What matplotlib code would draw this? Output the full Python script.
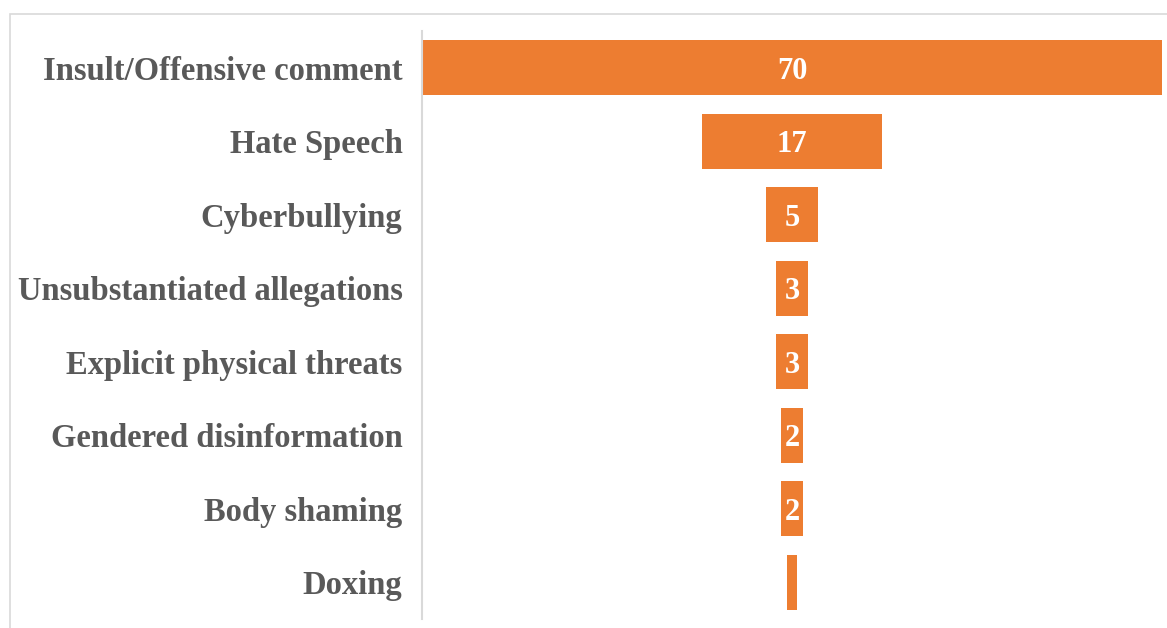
import matplotlib

matplotlib.use("Agg")
import matplotlib.pyplot as plt
from matplotlib.patches import Rectangle

categories = [
    "Insult/Offensive comment",
    "Hate Speech",
    "Cyberbullying",
    "Unsubstantiated allegations",
    "Explicit physical threats",
    "Gendered disinformation",
    "Body shaming",
    "Doxing",
]
values = [70, 17, 5, 3, 3, 2, 2, 1]
shown_labels = ["70", "17", "5", "3", "3", "2", "2", ""]

ORANGE = "#ED7D31"
GRAY = "#595959"
FONT = "Liberation Serif"

fig = plt.figure(figsize=(11.67, 6.28), dpi=100)
# light frame around the chart area
fig.patches.append(Rectangle((10 / 1167, -0.01), 1.0, (628 - 14) / 628 + 0.01,
                             transform=fig.transFigure, fill=False,
                             edgecolor="#D9D9D9", lw=1.2))

ax = fig.add_axes([422 / 1167, (628 - 619) / 628, 740 / 1167, 588 / 628])
ys = list(range(len(categories)))
ax.barh(ys, values, left=[-v / 2 for v in values], height=0.75, color=ORANGE)
for y, v, lab in zip(ys, values, shown_labels):
    if lab:
        ax.text(0, y, lab, ha="center", va="center_baseline", color="white",
                fontsize=22, fontweight="bold", family=FONT)

ax.set_xlim(-35, 35)
ax.set_ylim(len(categories) - 0.5, -0.5)
ax.set_yticks(ys)
ax.set_yticklabels(categories, fontsize=23.5, fontweight="bold", family=FONT, color=GRAY)
ax.tick_params(axis="y", length=0, pad=14)
ax.set_xticks([])
for s in ["top", "right", "bottom"]:
    ax.spines[s].set_visible(False)
ax.spines["left"].set_color("#D9D9D9")
ax.spines["left"].set_linewidth(1.5)

fig.savefig("out.png", dpi=100)
